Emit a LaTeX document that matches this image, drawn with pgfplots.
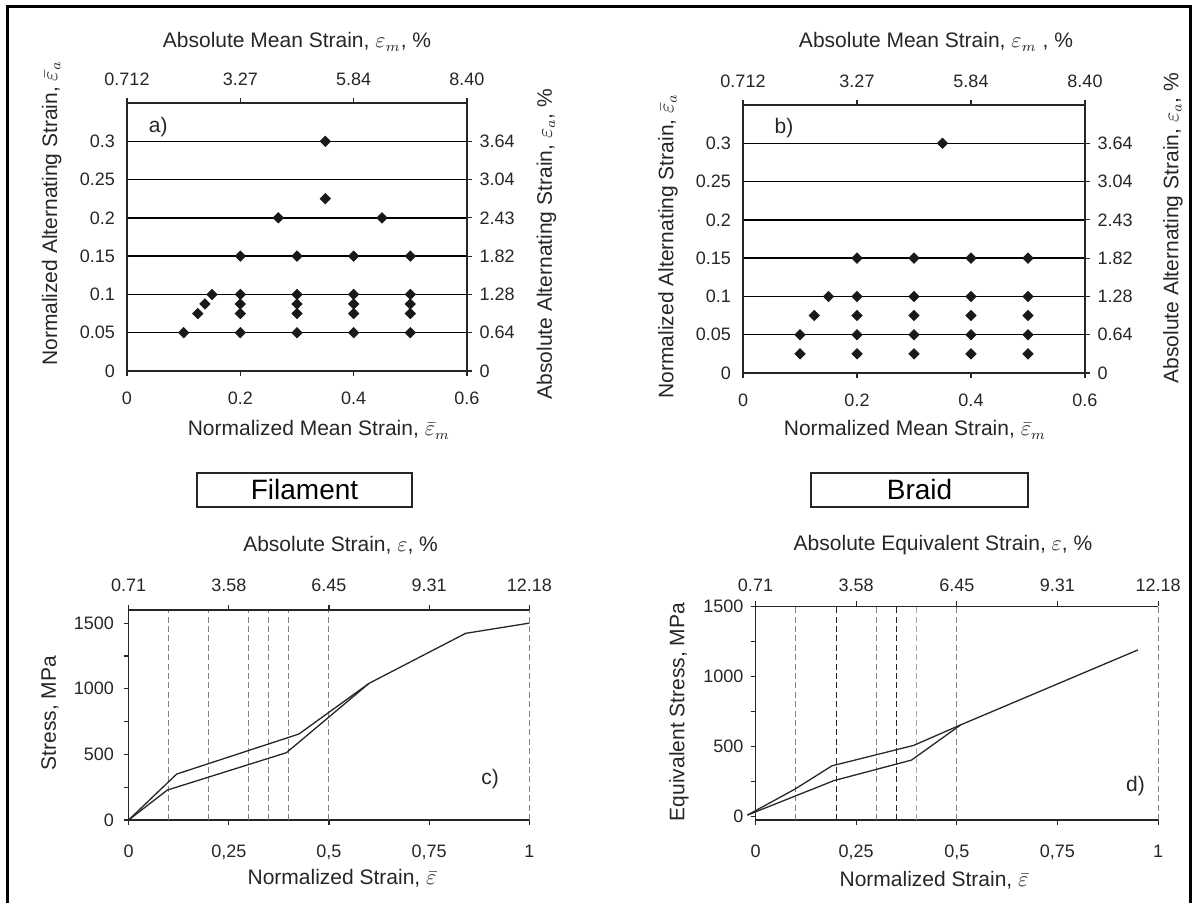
\documentclass[border=0pt]{standalone}
\usepackage{pgfplots}
\pgfplotsset{compat=1.18}
\usepackage{fontspec}
\setmainfont{Liberation Sans}
\newcommand{\tickfont}{\fontsize{9}{10}\selectfont}
\newcommand{\labfont}{\fontsize{10.5}{12}\selectfont}
\definecolor{txt}{gray}{0.15}
\definecolor{ln}{gray}{0.15}
\definecolor{dsh}{gray}{0.5}
\pgfplotsset{
  base/.style={scale only axis, clip=false,
    axis line style={line width=0.6pt, draw=ln},
    tick style={line width=0.6pt, draw=ln},
    tick align=outside, major tick length=2.5pt, minor tick length=2.5pt,
    tick label style={font=\tickfont, text=txt},
    /pgf/number format/assume math mode=true},
  geoA/.style={at={(63.5pt,266pt)}, anchor=south west, width=170pt, height=134pt,
    xmin=0, xmax=0.6, ymin=0, ymax=0.35},
  geoB/.style={at={(371.5pt,265pt)}, anchor=south west, width=171pt, height=134pt,
    xmin=0, xmax=0.6, ymin=0, ymax=0.35},
  geoC/.style={at={(64.3pt,41.5pt)}, anchor=south west, width=200.35pt, height=105pt,
    xmin=0, xmax=1, ymin=0, ymax=1600},
  geoD/.style={at={(377.75pt,41.5pt)}, anchor=south west, width=201.3pt, height=106.75pt,
    xmin=0, xmax=1, ymin=-25, ymax=1500},
  botAB/.style={axis x line*=bottom, axis y line*=left,
    xtick={0,0.2,0.4,0.6}, xticklabels={0,0.2,0.4,0.6},
    ytick={0,0.05,0.1,0.15,0.2,0.25,0.3}, yticklabels={0,0.05,0.1,0.15,0.2,0.25,0.3},
    ytick style={draw=none},
    ymajorgrids, major grid style={line width=0.7pt, black},
    xticklabel style={yshift=-4.3pt}},
  topAB/.style={axis x line*=top, axis y line*=right,
    xtick={0,0.2,0.4,0.6}, xticklabels={0.712,3.27,5.84,8.40},
    ytick={0,0.05,0.1,0.15,0.2,0.25,0.3}, yticklabels={0,0.64,1.28,1.82,2.43,3.04,3.64},
    xticklabel style={yshift=2.7pt}, yticklabel style={xshift=0.3pt}},
  botCD/.style={axis x line*=bottom, axis y line*=left,
    xtick={0,0.25,0.5,0.75,1}, xticklabels={0,{0,25},{0,5},{0,75},1},
    ytick={0,500,1000,1500}, yticklabels={0,500,1000,1500}, minor ytick={250,750,1250},
    xticklabel style={yshift=-6.3pt}},
  topCD/.style={axis x line*=top, axis y line=none,
    xtick={0,0.25,0.5,0.75,1}, xticklabels={0.71,3.58,6.45,9.31,12.18}},
  dia/.style={only marks, mark=square*, mark size=1.8pt,
    mark options={rotate=45, fill=black!90, draw=black!90}},
  vd/.style={dsh, line width=0.5pt, dash pattern=on 3pt off 1.7pt},
  crv/.style={ln, line width=0.65pt}
}
\begin{document}
\begin{tikzpicture}
\path[use as bounding box] (0,0) rectangle (597pt,451.5pt);
\draw[line width=1.5pt, black] (3.5pt,0) -- (3.5pt,448pt) -- (595pt,448pt) -- (595pt,0);

% ---------- panel a ----------
\begin{axis}[base, geoA, botAB]
\addplot[dia] coordinates {
(0.1,0.05) (0.125,0.075) (0.1375,0.0875) (0.15,0.1)
(0.2,0.05) (0.2,0.075) (0.2,0.0875) (0.2,0.1) (0.2,0.15)
(0.3,0.05) (0.3,0.075) (0.3,0.0875) (0.3,0.1) (0.3,0.15)
(0.4,0.05) (0.4,0.075) (0.4,0.0875) (0.4,0.1) (0.4,0.15)
(0.5,0.05) (0.5,0.075) (0.5,0.0875) (0.5,0.1) (0.5,0.15)
(0.267,0.2) (0.45,0.2) (0.35,0.225) (0.35,0.3)};
\node[font=\labfont, text=txt] at (axis cs:0.055,0.318) {a)};
\end{axis}
\begin{axis}[base, geoA, topAB]
\end{axis}

% ---------- panel b ----------
\begin{axis}[base, geoB, botAB]
\addplot[dia] coordinates {
(0.1,0.025) (0.1,0.05) (0.125,0.075) (0.15,0.1)
(0.2,0.025) (0.2,0.05) (0.2,0.075) (0.2,0.1) (0.2,0.15)
(0.3,0.025) (0.3,0.05) (0.3,0.075) (0.3,0.1) (0.3,0.15)
(0.4,0.025) (0.4,0.05) (0.4,0.075) (0.4,0.1) (0.4,0.15)
(0.5,0.025) (0.5,0.05) (0.5,0.075) (0.5,0.1) (0.5,0.15)
(0.35,0.3)};
\node[font=\labfont, text=txt] at (axis cs:0.072,0.32) {b)};
\end{axis}
\begin{axis}[base, geoB, topAB]
\end{axis}

% ---------- panel c ----------
\begin{axis}[base, geoC, botCD, yticklabel style={xshift=-1.3pt}]
\addplot[vd] coordinates {(0.1,0) (0.1,1600)};
\addplot[vd] coordinates {(0.2,0) (0.2,1600)};
\addplot[vd] coordinates {(0.3,0) (0.3,1600)};
\addplot[vd] coordinates {(0.35,0) (0.35,1600)};
\addplot[vd] coordinates {(0.4,0) (0.4,1600)};
\addplot[vd] coordinates {(0.5,0) (0.5,1600)};
\addplot[vd] coordinates {(1,0) (1,1600)};
\addplot[crv] coordinates {(0,0) (0.12,350) (0.425,655) (0.6,1041) (0.841,1422) (1.0,1500)};
\addplot[crv] coordinates {(0,0) (0.0966,228) (0.394,513) (0.6,1041)};
\node[font=\labfont, text=txt] at (axis cs:0.902,312) {c)};
\end{axis}
\begin{axis}[base, geoC, topCD, xticklabel style={yshift=3pt}]
\end{axis}

% ---------- panel d ----------
\begin{axis}[base, geoD, botCD]
\addplot[vd] coordinates {(0.1,-25) (0.1,1500)};
\addplot[vd, draw=gray!30!black] coordinates {(0.2,-25) (0.2,1500)};
\addplot[vd] coordinates {(0.3,-25) (0.3,1500)};
\addplot[vd, draw=black!85] coordinates {(0.35,-25) (0.35,1500)};
\addplot[vd, draw=gray!70] coordinates {(0.4,-25) (0.4,1500)};
\addplot[vd] coordinates {(0.5,-25) (0.5,1500)};
\addplot[vd] coordinates {(1,-25) (1,1500)};
\addplot[crv] coordinates {(-0.02,10) (0.0977,195) (0.19,362) (0.393,508) (0.51,655) (0.95,1190)};
\addplot[crv] coordinates {(-0.02,10) (0.1945,256) (0.3875,403) (0.51,655)};
\node[font=\labfont, text=txt] at (axis cs:0.944,218) {d)};
\end{axis}
\begin{axis}[base, geoD, topCD, xticklabel style={yshift=1.3pt}]
\end{axis}

% ---------- labels ----------
\begin{scope}[every node/.style={font=\labfont, text=txt}]
\node at (148.5pt,430.5pt) {Absolute Mean Strain, $\varepsilon_m$, \%};
\node at (159.5pt,236.5pt) {Normalized Mean Strain, $\bar{\varepsilon}_m$};
\node[rotate=90] at (25.8pt,344.75pt) {Normalized Alternating Strain, $\bar{\varepsilon}_a$};
\node[rotate=90] at (273.25pt,329.5pt) {Absolute Alternating Strain, $\varepsilon_a$, \%};

\node at (468pt,430.5pt) {Absolute Mean Strain, $\varepsilon_m$ , \%};
\node at (457.5pt,236.5pt) {Normalized Mean Strain, $\bar{\varepsilon}_m$};
\node[rotate=90] at (334pt,328.5pt) {Normalized Alternating Strain, $\bar{\varepsilon}_a$};
\node[rotate=90] at (586.5pt,337.5pt) {Absolute Alternating Strain, $\varepsilon_a$, \%};

\node at (170.3pt,179pt) {Absolute Strain, $\varepsilon$, \%};
\node[rotate=90] at (25pt,95pt) {Stress, MPa};
\node at (171pt,12.5pt) {Normalized Strain, $\bar{\varepsilon}$};

\node at (471.5pt,179pt) {Absolute Equivalent Strain, $\varepsilon$, \%};
\node[rotate=90] at (339.5pt,95.5pt) {Equivalent Stress, MPa};
\node at (467pt,11.5pt) {Normalized Strain, $\bar{\varepsilon}$};
\end{scope}

\draw[line width=0.75pt, ln] (98.5pt,198pt) rectangle (206pt,215pt);
\node[font=\fontsize{14}{16}\selectfont, text=black] at (152.25pt,206.5pt) {Filament};
\draw[line width=0.75pt, ln] (405.5pt,198pt) rectangle (514pt,215pt);
\node[font=\fontsize{14}{16}\selectfont, text=black] at (459.75pt,206.5pt) {Braid};
\end{tikzpicture}
\end{document}
